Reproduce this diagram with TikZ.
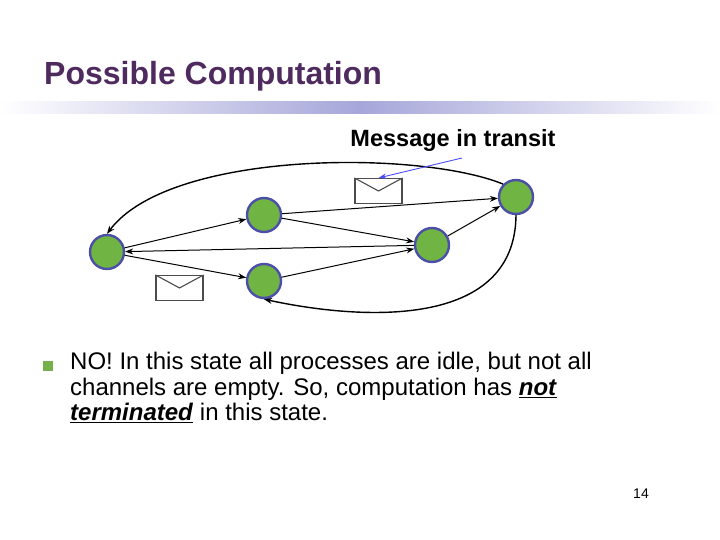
\documentclass[tikz,border=0pt]{standalone}
\usepackage{fontspec}
\setmainfont{Liberation Sans}
\usetikzlibrary{arrows.meta}
\definecolor{ttl}{HTML}{4F2A5F}
\definecolor{bar}{HTML}{A6A6DA}
\definecolor{gfill}{HTML}{70B443}
\definecolor{gline}{HTML}{4B4FA8}
\definecolor{bul}{HTML}{74B14A}
\tikzset{proc/.style={circle,fill=gfill,draw=gline,line width=2.4pt,minimum size=34pt,inner sep=0pt},
 edge/.style={-{Stealth[length=8pt,width=6pt]},line width=1pt},
 env/.style={draw=black!70,fill=white,line width=1.1pt,minimum width=47pt,minimum height=25pt,inner sep=0pt}}
\begin{document}
\begin{tikzpicture}[x=1pt,y=-1pt]
\useasboundingbox (0,0) rectangle (720,540);
\shade[left color=white,right color=bar] (0,102) rectangle (360,114);
\shade[left color=bar,right color=white] (360,102) rectangle (720,114);
\node[anchor=west,text=ttl,font=\bfseries\fontsize{32}{36}\selectfont,inner sep=0pt] (title) at (44,76) {Possible Computation};
\node[proc] (A) at (107,252) {};
\node[proc] (B) at (264,215) {};
\node[proc] (C) at (264,281) {};
\node[proc] (D) at (432,245) {};
\node[proc] (E) at (516,197) {};
\node[env] (m1) at (378.5,191) {};
\draw[black!70,line width=1.1pt] (m1.north west) -- (m1.center) -- (m1.north east);
\node[env] (m2) at (179.5,288) {};
\draw[black!70,line width=1.1pt] (m2.north west) -- (m2.center) -- (m2.north east);
\draw[edge] (A) -- (B);
\draw[edge] (B) -- (E);
\draw[edge] (B) -- (D);
\draw[edge] (A) -- (C);
\draw[edge] (C) -- (D);
\draw[edge] (D) -- (A);
\draw[edge] (D) -- (E);
\draw[edge,line width=1.4pt] (E.north west) .. controls (420,150) and (170,150) .. (A.north);
\draw[edge,line width=1.4pt] (E.south) .. controls (515,330) and (360,320) .. (C.south);
\node[font=\bfseries\fontsize{23.5}{26}\selectfont,inner sep=0pt] (lbl) at (453,140) {Message in transit};
\coordinate (ls) at (462,158);
\draw[-{Stealth[length=8pt,width=5.5pt]},blue!70,line width=0.9pt] (ls) -- (m1.north);
\fill[bul] (43,361) rectangle (53,371);
\node[anchor=north west,align=left,font=\fontsize{24}{25.5}\selectfont,inner sep=0pt] (txt) at (70,352)
 {NO! In this state all processes are idle, but not all\\channels are empty. So, computation has \underline{\textbf{\textit{not}}}\\\underline{\textbf{\textit{terminated}}} in this state.};
\node[font=\fontsize{14}{16}\selectfont] (pg) at (641,494) {14};
\end{tikzpicture}
\end{document}
